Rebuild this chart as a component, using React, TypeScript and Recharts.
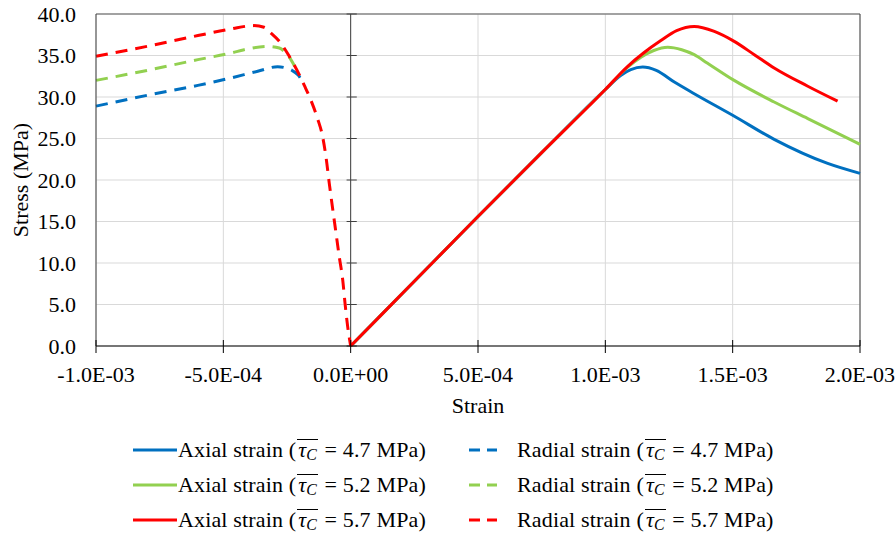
import React from 'react';
import { LineChart, Line, XAxis, YAxis, CartesianGrid, ReferenceLine } from 'recharts';

// Stress-strain curves, axial (positive strain) and radial (negative strain)

type Pt = { strain: number; stress: number };

const strainTicks = [-1e-3, -5e-4, 0, 5e-4, 1e-3, 1.5e-3, 2e-3];
const stressTicks = [0, 5, 10, 15, 20, 25, 30, 35, 40];
const tauValues = ['4.7', '5.2', '5.7'];

// [strain, stress (MPa)]
const axial47 = [
  [0, 0], [2.5e-4, 7.8], [5e-4, 15.6], [7.5e-4, 23.3], [1.0e-3, 30.9], [1.06e-3, 32.6],
  [1.1e-3, 33.3], [1.147e-3, 33.6], [1.2e-3, 33.2], [1.271e-3, 31.8], [1.349e-3, 30.4],
  [1.5e-3, 27.8], [1.663e-3, 24.9], [1.873e-3, 22.0], [2.0e-3, 20.8],
];
const axial52 = [
  [0, 0], [2.5e-4, 7.8], [5e-4, 15.6], [7.5e-4, 23.3], [1.0e-3, 30.9], [1.088e-3, 33.6],
  [1.14e-3, 34.8], [1.19e-3, 35.6], [1.245e-3, 36.0], [1.3e-3, 35.7], [1.349e-3, 35.1],
  [1.4e-3, 34.1], [1.506e-3, 32.0], [1.663e-3, 29.4], [1.795e-3, 27.4], [2.0e-3, 24.3],
];
const axial57 = [
  [0, 0], [2.5e-4, 7.8], [5e-4, 15.6], [7.5e-4, 23.3], [1.0e-3, 30.9], [1.088e-3, 33.7],
  [1.15e-3, 35.3], [1.218e-3, 36.8], [1.28e-3, 38.0], [1.349e-3, 38.5], [1.428e-3, 37.9],
  [1.506e-3, 36.7], [1.585e-3, 35.1], [1.663e-3, 33.5], [1.795e-3, 31.3], [1.912e-3, 29.5],
];

// radial curves; the 4.7 and 5.2 curves disappear under the 5.7 one once they join it
const radial47 = [
  [-1e-3, 28.9], [-8e-4, 30.2], [-6e-4, 31.4], [-4.7e-4, 32.3], [-3.65e-4, 33.1],
  [-2.87e-4, 33.65], [-2.54e-4, 33.5], [-2.3e-4, 33.2], [-2.05e-4, 32.6], [-1.85e-4, 31.6],
];
const radial52 = [
  [-1e-3, 32.0], [-8e-4, 33.2], [-6e-4, 34.5], [-4.7e-4, 35.3], [-4.18e-4, 35.7],
  [-3.26e-4, 36.1], [-2.8e-4, 35.9], [-2.61e-4, 35.5], [-2.41e-4, 34.8], [-2.2e-4, 33.7],
];
const radial57 = [
  [-1e-3, 34.9], [-8e-4, 36.1], [-6e-4, 37.4], [-4.7e-4, 38.2], [-3.8e-4, 38.6],
  [-3.4e-4, 38.4], [-3.13e-4, 37.7], [-2.8e-4, 36.7], [-2.41e-4, 34.9], [-2.02e-4, 32.7],
  [-1.82e-4, 31.4], [-1.56e-4, 29.6], [-1.3e-4, 27.4], [-1.1e-4, 25.2], [-9.7e-5, 22.8],
  [-8.4e-5, 19.6], [-7.1e-5, 16.6], [-5.8e-5, 13.7], [-4.5e-5, 10.8], [-3.1e-5, 7.9],
  [-2.2e-5, 5.1], [-1.2e-5, 2.4], [0, 0],
];

const toPts = (rows: number[][]): Pt[] => rows.map(([strain, stress]) => ({ strain, stress }));

const BLUE = '#0070C0';
const GREEN = '#92D050';
const RED = '#FF0000';
const FONT = '"Liberation Serif", "Times New Roman", serif';
const DASH = '12 8';

interface SeriesConfig {
  key: string;
  kind: 'Axial' | 'Radial';
  tau: string;
  color: string;
  data: Pt[];
}

const SERIES: SeriesConfig[] = [
  { key: 'a47', kind: 'Axial', tau: tauValues[0], color: BLUE, data: toPts(axial47) },
  { key: 'a52', kind: 'Axial', tau: tauValues[1], color: GREEN, data: toPts(axial52) },
  { key: 'a57', kind: 'Axial', tau: tauValues[2], color: RED, data: toPts(axial57) },
  { key: 'r47', kind: 'Radial', tau: tauValues[0], color: BLUE, data: toPts(radial47) },
  { key: 'r52', kind: 'Radial', tau: tauValues[1], color: GREEN, data: toPts(radial52) },
  { key: 'r57', kind: 'Radial', tau: tauValues[2], color: RED, data: toPts(radial57) },
];

const fmtStrain = (v: number) => {
  const [m, e] = v.toExponential(1).split('e');
  const n = Number(e);
  return `${m}E${n < 0 ? '-' : '+'}${String(Math.abs(n)).padStart(2, '0')}`;
};

const X_TICK_SIZE = 7;
const X_TICK_MARGIN = 13;

// x tick: label plus a tick mark that crosses the axis line
function StrainTick(props: any) {
  const { x, y, payload } = props;
  const axisY = y - X_TICK_SIZE - X_TICK_MARGIN;
  return (
    <g>
      <line x1={x} x2={x} y1={axisY - 6} y2={axisY + X_TICK_SIZE} stroke="#000" strokeWidth={1} />
      <text x={x} y={y} dy="0.71em" textAnchor="middle" fontFamily={FONT} fontSize={22} fill="#000">
        {fmtStrain(payload.value)}
      </text>
    </g>
  );
}

// cross ticks on the vertical axis at zero strain (in strain units)
const Y_TICK_LEFT = -1.6e-5;
const Y_TICK_RIGHT = 2.4e-5;

function Tau() {
  return (
    <span
      style={{
        display: 'inline-block',
        lineHeight: 0.95,
        borderTop: '1.5px solid #000',
        padding: '0 1px',
        margin: '0 1px',
      }}
    >
      <span style={{ fontStyle: 'italic' }}>τ</span>
      <span style={{ fontStyle: 'italic', fontSize: '0.72em', position: 'relative', top: '0.2em' }}>C</span>
    </span>
  );
}

const LEGEND_TOP = 432;
const LEGEND_ROW = 35;
const LEGEND_COLS = {
  Axial: { swatchLeft: 133, swatchWidth: 44, textLeft: 178 },
  Radial: { swatchLeft: 469, swatchWidth: 28, textLeft: 517 },
};

function ChartLegend() {
  return (
    <>
      {SERIES.map((s, i) => {
        const row = i % 3;
        const col = LEGEND_COLS[s.kind];
        const top = LEGEND_TOP + row * LEGEND_ROW;
        return (
          <React.Fragment key={s.key}>
            <svg
              width={col.swatchWidth}
              height={6}
              style={{ position: 'absolute', left: col.swatchLeft, top: top + LEGEND_ROW / 2 - 3 }}
            >
              <line
                x1={0}
                x2={col.swatchWidth}
                y1={3}
                y2={3}
                stroke={s.color}
                strokeWidth={3}
                strokeDasharray={s.kind === 'Radial' ? '11 7' : undefined}
              />
            </svg>
            <div
              style={{
                position: 'absolute',
                left: col.textLeft,
                top,
                height: LEGEND_ROW,
                lineHeight: `${LEGEND_ROW}px`,
                whiteSpace: 'nowrap',
                fontFamily: FONT,
                fontSize: 22,
                letterSpacing: '0.15px',
                color: '#000',
              }}
            >
              {s.kind} strain (<Tau /> = {s.tau} MPa)
            </div>
          </React.Fragment>
        );
      })}
    </>
  );
}

export default function App() {
  return (
    <div style={{ position: 'relative', width: 896, height: 533, background: '#fff', overflow: 'hidden' }}>
      <style>{'html, body { margin: 0; padding: 0; }'}</style>
      <LineChart width={896} height={533} margin={{ top: 14, right: 36, bottom: 117, left: 0 }}>
        <CartesianGrid stroke="#d9d9d9" strokeWidth={1} />
        <XAxis
          type="number"
          dataKey="strain"
          domain={[-1e-3, 2e-3]}
          ticks={strainTicks}
          interval={0}
          height={70}
          axisLine={{ stroke: '#000', strokeWidth: 1 }}
          tickLine={false}
          tickSize={X_TICK_SIZE}
          tickMargin={X_TICK_MARGIN}
          tick={<StrainTick />}
          label={{
            value: 'Strain',
            position: 'insideBottom',
            offset: 3,
            style: { fontFamily: FONT, fontSize: 22, fill: '#000' },
          }}
        />
        <YAxis
          type="number"
          dataKey="stress"
          domain={[0, 40]}
          ticks={stressTicks}
          interval={0}
          width={96}
          axisLine={{ stroke: '#404040', strokeWidth: 1 }}
          tickLine={false}
          tickSize={0}
          tickMargin={20}
          tickFormatter={(v: number) => v.toFixed(1)}
          tick={{ fontFamily: FONT, fontSize: 22, fill: '#000' }}
          label={{
            value: 'Stress (MPa)',
            angle: -90,
            position: 'insideLeft',
            offset: 20,
            style: { textAnchor: 'middle', fontFamily: FONT, fontSize: 22, fill: '#000' },
          }}
        />
        <ReferenceLine y={40} stroke="#595959" strokeWidth={1} />
        <ReferenceLine x={2e-3} stroke="#404040" strokeWidth={1} />
        <ReferenceLine x={0} stroke="#404040" strokeWidth={1} />
        {stressTicks.map((v) => (
          <ReferenceLine
            key={`yt${v}`}
            segment={[{ x: Y_TICK_LEFT, y: v }, { x: Y_TICK_RIGHT, y: v }]}
            stroke="#404040"
            strokeWidth={1}
          />
        ))}
        {SERIES.map((s) => (
          <Line
            key={s.key}
            data={s.data}
            dataKey="stress"
            type="monotone"
            stroke={s.color}
            strokeWidth={3}
            strokeDasharray={s.kind === 'Radial' ? DASH : undefined}
            dot={false}
            activeDot={false}
            isAnimationActive={false}
          />
        ))}
      </LineChart>
      <ChartLegend />
    </div>
  );
}
